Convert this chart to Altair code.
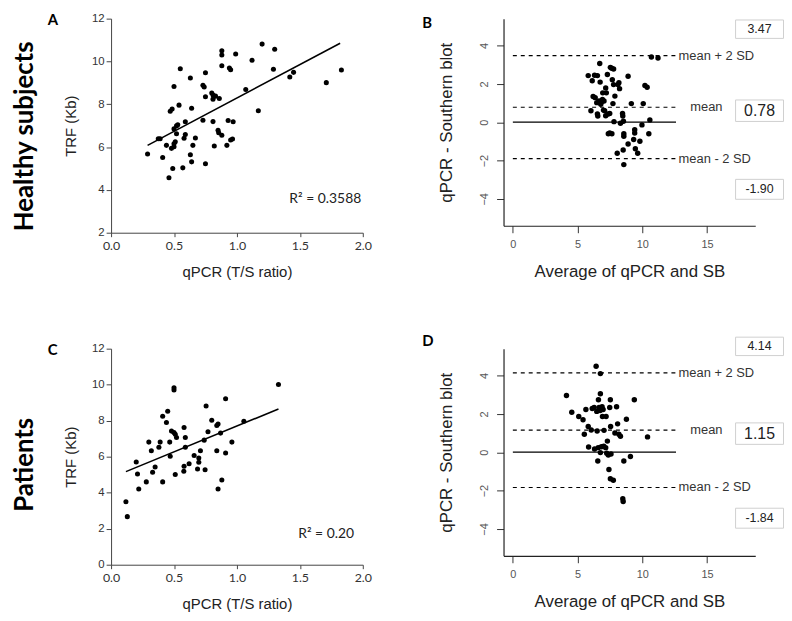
import altair as alt
import pandas as pd

# ---------------- data ----------------
# Panel A: healthy subjects, TRF vs qPCR
a_x = [0.29, 0.375, 0.39, 0.41, 0.44, 0.46, 0.47, 0.485, 0.50, 0.49, 0.48, 0.50, 0.50, 0.51, 0.50,
       0.52, 0.53, 0.52, 0.54, 0.55, 0.58, 0.59, 0.59, 0.57, 0.63, 0.64, 0.63, 0.64, 0.65, 0.67,
       0.73, 0.74, 0.75, 0.75, 0.73, 0.75, 0.80, 0.81, 0.81, 0.83, 0.86, 0.81, 0.82, 0.85, 0.855,
       0.88, 0.88, 0.88, 0.88, 0.92, 0.93, 0.94, 0.95, 0.95, 0.965, 0.97, 0.99, 1.07, 1.12, 1.17,
       1.20, 1.30, 1.29, 1.42, 1.45, 1.71, 1.83]
a_y = [5.68, 6.39, 6.39, 5.51, 6.08, 4.57, 7.67, 7.78, 8.83, 5.00, 5.94, 6.02, 6.85, 6.25, 6.16,
       6.99, 7.04, 6.62, 7.96, 9.66, 6.41, 6.59, 7.18, 5.03, 9.23, 7.81, 5.64, 5.31, 6.08, 6.42,
       8.89, 8.81, 9.47, 8.35, 7.25, 5.22, 8.53, 8.43, 8.24, 8.38, 8.27, 7.19, 6.05, 6.79, 6.67,
       6.55, 10.50, 10.30, 9.80, 6.08, 7.24, 9.69, 9.61, 6.33, 6.38, 7.18, 10.35, 8.69, 10.06, 7.70,
       10.81, 10.57, 9.64, 9.27, 9.49, 9.01, 9.60]
a_fit_x = [0.29, 1.82]
a_fit_y = [6.08, 10.85]
a_r2 = "R\u00b2 = 0.3588"

# Panel C: patients, TRF vs qPCR
c_x = [0.118, 0.129, 0.20, 0.21, 0.22, 0.28, 0.30, 0.32, 0.33, 0.35, 0.38, 0.39, 0.41, 0.41, 0.44,
       0.45, 0.466, 0.47, 0.48, 0.50, 0.50, 0.50, 0.51, 0.52, 0.51, 0.58, 0.59, 0.59, 0.58, 0.578,
       0.62, 0.66, 0.687, 0.697, 0.697, 0.71, 0.74, 0.747, 0.755, 0.77, 0.80, 0.84, 0.85, 0.84, 0.85,
       0.87, 0.88, 0.91, 0.91, 0.96, 1.055, 1.33]
c_y = [3.50, 2.67, 5.71, 5.04, 4.21, 4.60, 6.81, 6.33, 5.14, 5.43, 6.52, 6.81, 8.25, 4.60, 7.90,
       8.52, 6.81, 6.02, 7.42, 9.83, 9.70, 7.34, 7.25, 7.07, 5.01, 7.62, 7.07, 6.52, 5.47, 5.19,
       5.61, 6.07, 5.32, 5.93, 5.69, 6.33, 6.92, 5.28, 8.82, 7.38, 8.02, 7.73, 7.82, 6.33, 4.21,
       7.31, 4.71, 9.22, 6.20, 6.81, 7.97, 10.01]
c_fit_x = [0.118, 1.33]
c_fit_y = [5.17, 8.65]
c_r2 = "R\u00b2 = 0.20"

# Panel B: healthy subjects, Bland-Altman
b_x = [5.82, 6.03, 6.13, 6.20, 6.36, 6.31, 6.53, 6.48, 6.53, 6.56, 6.66, 6.71, 6.74, 6.79, 6.84,
       6.92, 6.94, 7.00, 7.04, 7.09, 7.17, 7.17, 7.22, 7.30, 7.37, 7.37, 7.48, 7.48, 7.53, 7.63,
       7.68, 7.65, 7.73, 7.78, 7.78, 7.88, 7.81, 8.06, 8.11, 8.19, 8.24, 8.31, 8.47, 8.49, 8.54,
       8.57, 8.57, 8.52, 8.57, 8.90, 8.90, 9.15, 9.33, 9.41, 9.41, 9.46, 9.64, 9.81, 9.97, 10.07,
       10.20, 10.37, 10.50, 10.58, 10.70, 11.21]
b_y = [2.43, 0.60, 2.16, 1.34, 1.28, 2.45, 2.43, 1.02, 0.43, 0.32, 1.11, 3.06, 2.09, 0.94, 1.06,
       1.19, 1.53, 0.63, 1.11, 0.60, 0.34, 1.79, 1.53, 2.49, 0.43, -0.60, 0.46, -0.56, 2.86, 2.81,
       2.21, -0.60, 0.97, 2.77, 1.96, 1.36, 0.03, -1.62, 1.96, 2.06, 1.75, -0.05, 0.46, 0.32, 0.05,
       -0.60, -0.73, -1.45, -2.21, -1.14, 2.40, 0.97, -0.90, -0.39, -0.56, -1.38, -1.62, -0.99, -0.14, 0.97,
       1.92, 1.82, -0.60, 0.12, 3.40, 3.35]
b_stats = [3.47, 0.78, -1.90]  # mean + 2 SD, mean, mean - 2 SD

# Panel D: patients, Bland-Altman
d_x = [4.14, 4.55, 5.09, 5.42, 5.52, 5.64, 5.82, 5.85, 6.05, 6.13, 6.28, 6.31, 6.43, 6.48, 6.51,
       6.56, 6.59, 6.61, 6.66, 6.74, 6.76, 6.76, 6.76, 6.84, 6.89, 6.92, 6.97, 7.02, 7.04, 7.17,
       7.20, 7.25, 7.30, 7.37, 7.42, 7.48, 7.53, 7.55, 7.58, 7.53, 7.76, 7.88, 8.01, 8.09, 8.19,
       8.31, 8.49, 8.52, 8.57, 8.77, 9.08, 9.38, 10.40]
d_y = [2.96, 2.08, 1.86, 1.69, 0.94, 2.23, 1.34, 0.27, 1.16, 2.28, 2.33, 0.17, 4.48, 2.13, 1.11,
       -0.46, 0.24, 2.74, 2.33, 2.18, -0.02, 4.10, 3.05, 0.29, 2.37, 1.86, 2.23, 0.32, 1.14, 0.24,
       1.86, -0.05, 0.58, -0.14, -0.90, 2.33, 2.74, 1.34, -0.09, -1.38, -1.46, 1.00, 2.37, 1.48, 0.94,
       0.83, -2.43, -2.57, -0.46, 1.72, -0.22, 2.74, 0.80]
d_stats = [4.14, 1.15, -1.84]

ba_line_labels = ["mean + 2 SD", "mean", "mean - 2 SD"]

# ---------------- layout / style constants ----------------
SANS = "Liberation Sans"
CAL = "Lato"
PW = 254
BA_LINE_END = 12.6
BA_LABEL_X = [12.8, 13.7, 12.8]
BA_BOX_X = [17.2, 20.9]
BA_BOX_OFFSETS = [1.38, -0.18, -1.60]   # box centre relative to its statistic (data units)
BA_BOX_HALF = [0.48, 0.56, 0.52]
BA_BOX_FONT = [12.5, 16, 12.5]


def letter_title(letter, dx, dy):
    return alt.TitleParams(letter, anchor="start", frame="group", dx=dx, dy=dy, offset=0,
                           font=CAL, fontSize=15, fontWeight="bold", color="black")


def scatter_panel(xs, ys, fx, fy, r2, r2_pos, ydom, yticks, height, letter):
    xsc = alt.Scale(domain=[0, 2], nice=False, zero=False)
    ysc = alt.Scale(domain=ydom, nice=False, zero=False)
    xaxis = alt.Axis(title="qPCR (T/S ratio)", values=[0, 0.5, 1, 1.5, 2], format=".1f",
                     grid=False, labelFlush=False, labelOverlap=False,
                     labelFont=CAL, labelFontSize=12.5, labelColor="#333", labelPadding=3,
                     tickSize=4, tickColor="#444", domainColor="#444", tickWidth=1, domainWidth=1,
                     titleFont=SANS, titleFontSize=15, titleFontWeight="normal", titleColor="#222",
                     titlePadding=13)
    yaxis = alt.Axis(title="TRF (Kb)", values=yticks, format="d",
                     grid=False, labelFlush=False, labelOverlap=False,
                     labelFont=SANS, labelFontSize=11.5, labelColor="#333", labelPadding=2,
                     tickSize=5, tickColor="#444", domainColor="#444", tickWidth=1, domainWidth=1,
                     titleFont=SANS, titleFontSize=15, titleFontWeight="normal", titleColor="#222",
                     titlePadding=13)
    X = alt.X("x:Q", scale=xsc, axis=xaxis)
    Y = alt.Y("y:Q", scale=ysc, axis=yaxis)
    pts = alt.Chart(pd.DataFrame({"x": xs, "y": ys})).mark_circle(
        size=26, color="black", opacity=1).encode(x=X, y=Y)
    fit = alt.Chart(pd.DataFrame({"x": fx, "y": fy})).mark_line(
        color="black", strokeWidth=1.6).encode(x=X, y=Y)
    txt = alt.Chart(pd.DataFrame({"x": [r2_pos[0]], "y": [r2_pos[1]], "t": [r2]})).mark_text(
        align="left", baseline="alphabetic", font=CAL, fontSize=14, color="#222").encode(
        x=X, y=Y, text="t:N")
    return alt.layer(pts, fit, txt).properties(
        width=PW, height=height, title=letter_title(letter, -64, 15))


def ba_panel(xs, ys, stats, height, letter):
    xsc = alt.Scale(domain=[-0.72, 18.72], nice=False, zero=False)
    ysc = alt.Scale(domain=[-5.4, 5.4], nice=False, zero=False)
    xaxis = alt.Axis(title="Average of qPCR and SB", values=[0, 5, 10, 15], format="d",
                     grid=False, labelFlush=False, labelOverlap=False,
                     labelFont=SANS, labelFontSize=11, labelColor="#555", labelPadding=6,
                     tickSize=7, tickColor="#333", domainColor="#222", tickWidth=1, domainWidth=1.2,
                     titleFont=SANS, titleFontSize=17, titleFontWeight="normal", titleColor="#222",
                     titlePadding=14)
    yaxis = alt.Axis(title="qPCR - Southern blot", values=[-4, -2, 0, 2, 4], format="d",
                     grid=False, labelFlush=False, labelOverlap=False, labelAngle=270,
                     labelAlign="center", labelBaseline="alphabetic",
                     labelFont=SANS, labelFontSize=11, labelColor="#555", labelPadding=9,
                     tickSize=7, tickColor="#333", domainColor="#222", tickWidth=1, domainWidth=1.2,
                     titleFont=SANS, titleFontSize=17, titleFontWeight="normal", titleColor="#222",
                     titlePadding=23)
    X = alt.X("x:Q", scale=xsc, axis=xaxis)
    Y = alt.Y("y:Q", scale=ysc, axis=yaxis)
    pts = alt.Chart(pd.DataFrame({"x": xs, "y": ys})).mark_circle(
        size=30, color="black", opacity=1).encode(x=X, y=Y)
    n = len(stats)
    ldf = pd.DataFrame({"x": [0] * n, "x2": [BA_LINE_END] * n, "y": stats})
    dashed = alt.Chart(ldf).mark_rule(color="black", strokeWidth=1.2, strokeDash=[4, 4]).encode(
        x=X, x2="x2:Q", y=Y)
    zdf = pd.DataFrame({"x": [0], "x2": [BA_LINE_END], "y": [0]})
    zero = alt.Chart(zdf).mark_rule(color="black", strokeWidth=1.3).encode(x=X, x2="x2:Q", y=Y)
    tdf = pd.DataFrame({"x": BA_LABEL_X, "y": stats, "t": ba_line_labels})
    labels = alt.Chart(tdf).mark_text(align="left", baseline="middle", font=SANS, fontSize=13,
                                      color="#333").encode(x=X, y=Y, text="t:N")
    centres = [s + o for s, o in zip(stats, BA_BOX_OFFSETS)]
    bdf = pd.DataFrame({
        "x": [BA_BOX_X[0]] * n, "x2": [BA_BOX_X[1]] * n,
        "y": [c - h for c, h in zip(centres, BA_BOX_HALF)],
        "y2": [c + h for c, h in zip(centres, BA_BOX_HALF)],
    })
    boxes = alt.Chart(bdf).mark_rect(fill="white", stroke="#cfcfcf", strokeWidth=1).encode(
        x=X, x2="x2:Q", y=Y, y2="y2:Q")
    btdf = pd.DataFrame({
        "x": [(BA_BOX_X[0] + BA_BOX_X[1]) / 2] * n,
        "y": centres,
        "t": [f"{s:.2f}" for s in stats],
        "fs": BA_BOX_FONT,
    })
    btxt = alt.Chart(btdf).mark_text(align="center", baseline="middle", font=SANS,
                                     color="#222").encode(
        x=X, y=Y, text="t:N", size=alt.Size("fs:Q", scale=None, legend=None))
    return alt.layer(pts, dashed, zero, labels, boxes, btxt).properties(
        width=PW, height=height, title=letter_title(letter, -82, 12))


panel_a = scatter_panel(a_x, a_y, a_fit_x, a_fit_y, a_r2, (1.416, 3.39), [2, 12],
                        [2, 4, 6, 8, 10, 12], 216, "A")
panel_c = scatter_panel(c_x, c_y, c_fit_x, c_fit_y, c_r2, (1.487, 1.51), [0, 12],
                        [0, 2, 4, 6, 8, 10, 12], 218, "C")
panel_b = ba_panel(b_x, b_y, b_stats, 209, "B")
panel_d = ba_panel(d_x, d_y, d_stats, 209, "D")


def row_title(text, shift):
    return alt.TitleParams(text, orient="left", anchor="middle", font=CAL, fontSize=26,
                           fontWeight="bold", color="black", offset=10, dx=shift)


row1 = alt.hconcat(panel_a, panel_b, spacing=142, bounds="flush",
                   title=row_title("Healthy subjects", 10))
row2 = alt.hconcat(panel_c, panel_d, spacing=142, bounds="flush",
                   title=row_title("Patients", 8))

chart = (alt.vconcat(row1, row2, spacing=53)
         .properties(padding={"left": 3, "top": 2, "right": 0, "bottom": 0})
         .configure(font=SANS, background="white")
         .configure_view(strokeWidth=0, stroke=None))

chart.save("out.html", embed_options={"renderer": "svg", "actions": False})
